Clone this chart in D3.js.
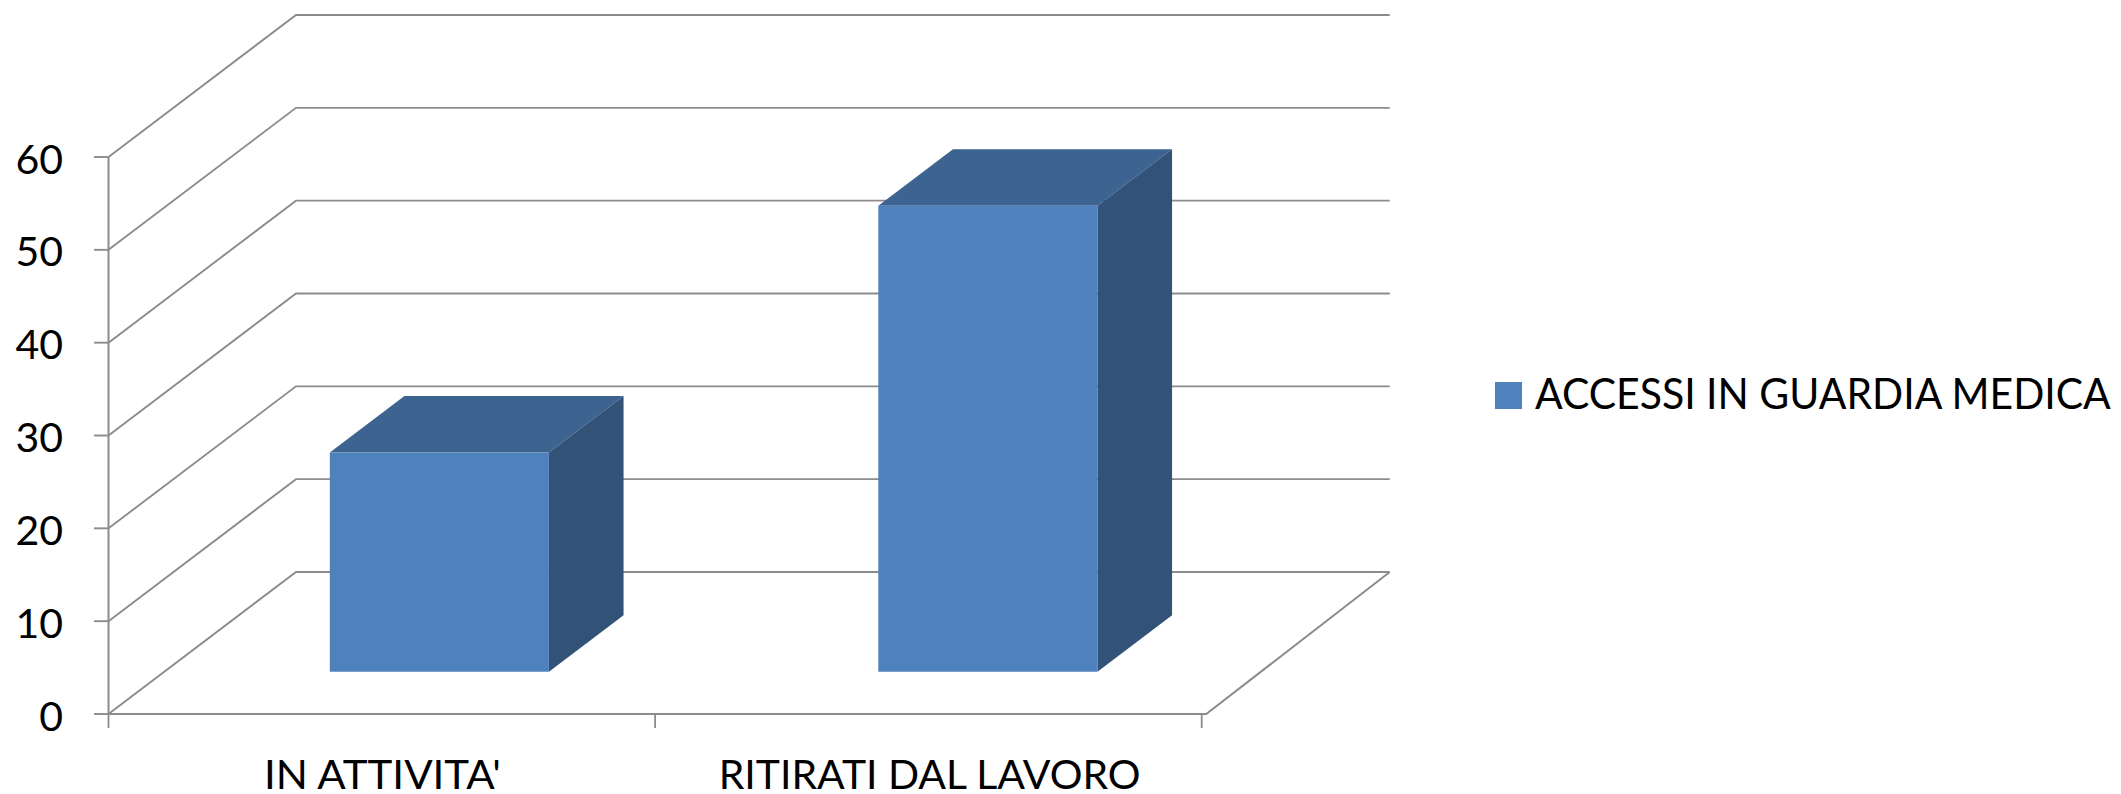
<!DOCTYPE html>
<html><head><meta charset="utf-8">
<style>html,body{margin:0;padding:0;background:#fff}svg{display:block}text{font-family:Lato,"Open Sans",sans-serif;fill:#000}</style>
<script src="https://cdn.jsdelivr.net/npm/d3@7/dist/d3.min.js"></script></head>
<body><svg id="c" width="2121" height="794"></svg>
<script>
const categories = ["IN ATTIVITA'", "RITIRATI DAL LAVORO"];
const seriesName = "ACCESSI IN GUARDIA MEDICA";
const values = [23.6, 50.2];
const yTicks = [0, 10, 20, 30, 40, 50, 60];
const colors = {front:"#4f81bd", top:"#3d6390", side:"#325277", axis:"#8c8c8c"};

const x = d3.scaleBand().domain(categories).range([108.5, 1201.7]);
const xBar = d3.scaleBand().domain(categories).range([109.25, 1206.25]);
const y = d3.scaleLinear().domain([0, 60]).range([714, 157]);
// depth 0 = front plane, 1 = back wall
const depth = {dx: 187.5, dy: -142};
const barDepth = {near: 0.298, far: 0.696};
const barWidthFrac = 0.3995;
const proj = (px, py, d) => [px + depth.dx * d, py + depth.dy * d];
const svg = d3.select("#c");
const line = d3.line();

const grid = svg.append("g").attr("fill","none").attr("stroke",colors.axis);
const x0 = x.range()[0], x1 = x.range()[1], floorEnd = xBar.range()[1];
yTicks.forEach(t => {
  const a = [x0, y(t)], b = proj(a[0], a[1], 1), e = [floorEnd + depth.dx - 4, b[1]];
  grid.append("path").attr("d", line([a, b, e])).attr("stroke-width", 1.9);
});
grid.append("path").attr("d", line([[x0, y(0)], [floorEnd, y(0)], [floorEnd + depth.dx - 4, y(0) + depth.dy]])).attr("stroke-width", 2);
grid.append("path").attr("d", line([[x0, y(60)], [x0, y(0)]])).attr("stroke-width", 2);
yTicks.forEach(t => grid.append("path").attr("d", line([[94, y(t)], [x0, y(t)]])).attr("stroke-width", 1.9));
[x0, x(categories[1]), x1].forEach(p => grid.append("path").attr("d", line([[p, y(0)], [p, y(0) + 14]])).attr("stroke-width", 1.8));

const bars = svg.append("g");
categories.forEach((c, i) => {
  const bw = xBar.bandwidth() * barWidthFrac;
  const left = xBar(c) + (xBar.bandwidth() - bw) / 2, right = left + bw;
  const y0 = y(0), yv = y(values[i]);
  const fbl = proj(left, y0, barDepth.near), fbr = proj(right, y0, barDepth.near);
  const ftl = proj(left, yv, barDepth.near), ftr = proj(right, yv, barDepth.near);
  const btl = proj(left, yv, barDepth.far), btr = proj(right, yv, barDepth.far), bbr = proj(right, y0, barDepth.far);
  bars.append("path").attr("d", line([ftl, ftr, btr, btl]) + "Z").attr("fill", colors.top);
  bars.append("path").attr("d", line([ftr, fbr, bbr, btr]) + "Z").attr("fill", colors.side);
  bars.append("path").attr("d", line([ftl, ftr, fbr, fbl]) + "Z").attr("fill", colors.front);
});

svg.append("g").selectAll("text").data(yTicks).join("text")
  .attr("x", 63).attr("y", d => y(d) + 16.5).attr("text-anchor","end")
  .attr("font-size", 41).text(d => d);

// fit a text to a measured width by scaling it horizontally
function fit(sel, left, baseline, width) {
  const natural = sel.node().getComputedTextLength();
  sel.attr("transform", `translate(${left},${baseline}) scale(${width / natural},1)`);
}
const labelLefts = [264, 718.7], labelWidths = [237, 422];
categories.forEach((c, i) => {
  fit(svg.append("text").attr("font-size", 41).text(c), labelLefts[i], 789, labelWidths[i]);
});
svg.append("rect").attr("x",1495).attr("y",382).attr("width",27).attr("height",27).attr("fill",colors.front);
fit(svg.append("text").attr("font-size", 42).text(seriesName), 1535, 409, 576);
</script></body></html>
